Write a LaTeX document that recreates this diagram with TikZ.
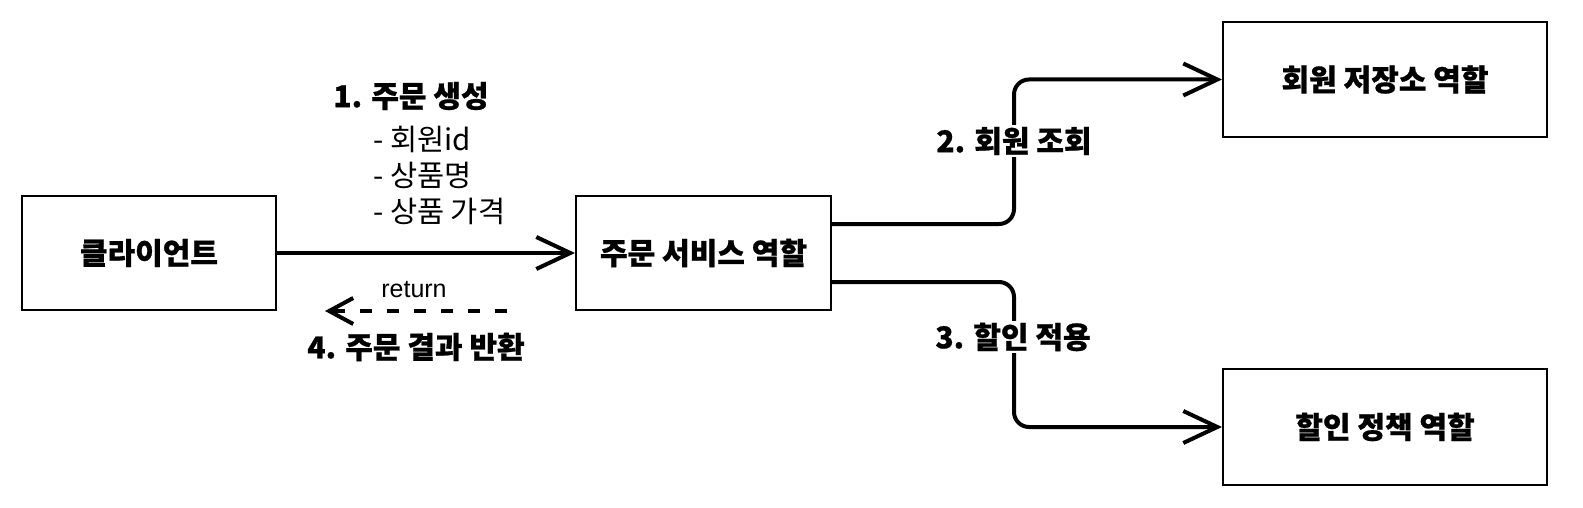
\documentclass[tikz,border=0pt]{standalone}
\usepackage{fontspec}
\setmainfont{Noto Sans CJK KR}[BoldFeatures={FakeBold=0.8}]
\newfontfamily\latinsans{Liberation Sans}
\usetikzlibrary{arrows.meta}
\begin{document}
\begin{tikzpicture}[x=1pt,y=-1pt,
  box/.style={draw, line width=2pt, inner sep=0pt, font=\bfseries\fontsize{30}{36}\selectfont},
  conn/.style={line width=4pt, -{Straight Barb[length=34pt,width=32pt]}},
  lbl/.style={inner sep=2pt, font=\bfseries\fontsize{30}{36}\selectfont},
  txt/.style={inner sep=0pt, font=\fontsize{29.5}{34}\selectfont},
  rettxt/.style={inner sep=0pt, font=\latinsans\fontsize{25}{28}\selectfont}
]
\useasboundingbox (0,0) rectangle (1583,508);

\node[box, minimum width=254pt, minimum height=114pt] (client) at (149,253) {클라이언트};
\node[box, minimum width=255pt, minimum height=114pt] (service) at (703.5,253) {주문 서비스 역할};
\node[box, minimum width=324pt, minimum height=115pt] (member) at (1385,79.5) {회원 저장소 역할};
\node[box, minimum width=324pt, minimum height=116pt] (discount) at (1385,427) {할인 정책 역할};

% 1. order creation
\draw[conn] (client.east) -- (service.west);
\node[lbl] (t1) at (411,96) {1. 주문 생성};
\node[txt, anchor=west] (t1a) at (373,139) {- 회원id};
\node[txt, anchor=west] (t1b) at (373,175) {- 상품명};
\node[txt, anchor=west] (t1c) at (373,211) {- 상품 가격};

% 4. return
\coordinate (rs) at (507,311);
\coordinate (re) at (325,311);
\draw[line width=4pt, dash pattern=on 12pt off 15pt, -{Straight Barb[length=24pt,width=26pt]}] (rs) -- (re);
\node[rettxt] (ret) at (414,290) {return};
\node[lbl] (t4) at (416,347) {4. 주문 결과 반환};

% 2. member lookup
\draw[conn, rounded corners=15pt] ([yshift=29pt]service.east) -- ++(182,0) |- (member.west);
\node[lbl, fill=white] (t2) at (1014,141) {2. 회원 조회};

% 3. discount
\draw[conn, rounded corners=15pt] ([yshift=-29pt]service.east) -- ++(182,0) |- (discount.west);
\node[lbl, fill=white] (t3) at (1013,337) {3. 할인 적용};
\end{tikzpicture}
\end{document}
